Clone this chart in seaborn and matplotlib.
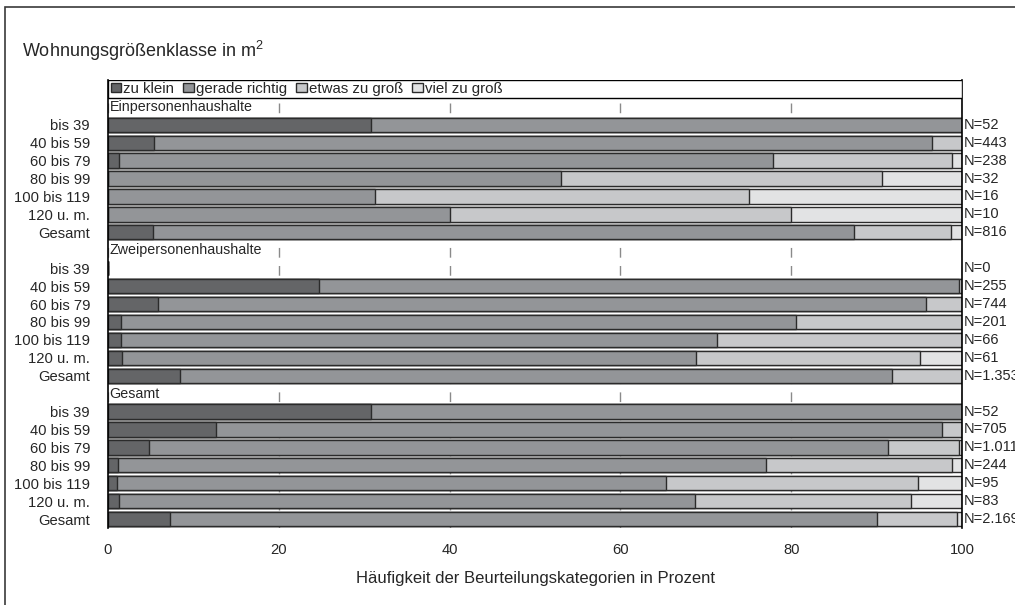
import numpy as np
import pandas as pd
import seaborn as sns
import matplotlib.pyplot as plt
from matplotlib.patches import Patch, Rectangle

# Kategorien und Beschriftungen
categories = ["zu klein", "gerade richtig", "etwas zu groß", "viel zu groß"]
size_labels = ["bis 39", "40 bis 59", "60 bis 79", "80 bis 99", "100 bis 119", "120 u. m.", "Gesamt"]
group_names = ["Einpersonenhaushalte", "Zweipersonenhaushalte", "Gesamt"]

# Einpersonenhaushalte (Prozent)
ein_zu_klein = [30.8, 5.4, 1.3, 0, 0, 0, 5.3]
ein_gerade = [69.2, 91.1, 76.6, 53.1, 31.3, 40.0, 82.1]
ein_etwas = [0, 3.5, 20.9, 37.5, 43.7, 40.0, 11.3]
ein_viel = [0, 0, 1.2, 9.4, 25.0, 20.0, 1.3]
ein_n = ["52", "443", "238", "32", "16", "10", "816"]

# Zweipersonenhaushalte
zwei_zu_klein = [0, 24.7, 5.9, 1.5, 1.5, 1.6, 8.4]
zwei_gerade = [0, 74.9, 89.9, 79.1, 69.8, 67.2, 83.4]
zwei_etwas = [0, 0.4, 4.2, 19.4, 28.7, 26.3, 8.2]
zwei_viel = [0, 0, 0, 0, 0, 4.9, 0]
zwei_n = ["0", "255", "744", "201", "66", "61", "1.353"]

# Gesamt
ges_zu_klein = [30.8, 12.6, 4.8, 1.2, 1.1, 1.3, 7.3]
ges_gerade = [69.2, 85.1, 86.5, 75.8, 64.2, 67.4, 82.8]
ges_etwas = [0, 2.3, 8.3, 21.8, 29.6, 25.3, 9.3]
ges_viel = [0, 0, 0.4, 1.2, 5.1, 6.0, 0.6]
ges_n = ["52", "705", "1.011", "244", "95", "83", "2.169"]

colors = ["#646567", "#939598", "#c7c8ca", "#e2e3e4"]
edge = "#2b2b2b"

sns.set_style("white")
plt.rcParams['font.family'] = ['Liberation Sans', 'DejaVu Sans']
plt.rcParams['mathtext.default'] = 'regular'

# Tabelle aufbauen (eine Zeile pro Balken)
groups = [
    (ein_zu_klein, ein_gerade, ein_etwas, ein_viel, ein_n),
    (zwei_zu_klein, zwei_gerade, zwei_etwas, zwei_viel, zwei_n),
    (ges_zu_klein, ges_gerade, ges_etwas, ges_viel, ges_n),
]
rows = []
order = ["legende"]
for g, (zk, gr, et, vi, nn) in enumerate(groups):
    order.append(f"kopf{g}")
    for i, lab in enumerate(size_labels):
        key = f"{g}_{i}"
        order.append(key)
        rows.append({"key": key, "label": lab, "N": nn[i],
                     categories[0]: zk[i], categories[1]: gr[i],
                     categories[2]: et[i], categories[3]: vi[i]})
df = pd.DataFrame(rows)
cum = df[categories].cumsum(axis=1)

fig = plt.figure(figsize=(10.15, 6.05), dpi=100)
ax = fig.add_axes([108 / 1015, 1 - 528 / 605, (962 - 108) / 1015, (528 - 80) / 605])

# gestapelte Balken: von hinten (Summe) nach vorne
for k in range(3, -1, -1):
    sns.barplot(x=cum[categories[k]], y=df["key"], order=order, orient="h",
                color=colors[k], saturation=1, width=0.8, edgecolor=edge,
                linewidth=1, errorbar=None, ax=ax)

ax.set_xlim(0, 100)
ax.set_ylim(len(order) - 0.5, -0.5)
ax.set_xticks([0, 20, 40, 60, 80, 100])
ax.set_yticks([order.index(k) for k in df["key"]])
ax.set_yticklabels(df["label"])
ax.tick_params(axis="y", length=0, pad=13, labelsize=10.6)
ax.tick_params(axis="x", length=0, pad=11, labelsize=10.6)
ax.grid(axis="x", linestyle=(0, (7, 6)), color="#8a8a8a", linewidth=1)
ax.set_axisbelow(True)
ax.set_ylabel("")
ax.set_xlabel("Häufigkeit der Beurteilungskategorien in Prozent", fontsize=12, labelpad=10)

for s in ["top", "bottom"]:
    ax.spines[s].set_visible(False)
for s in ["left", "right"]:
    ax.spines[s].set_color("black")
    ax.spines[s].set_linewidth(1.2)

# Gruppenüberschriften
for g, name in enumerate(group_names):
    ax.text(0.2, order.index(f"kopf{g}"), name, va="center", ha="left", fontsize=10.3)

# Fallzahlen rechts
for key, n in zip(df["key"], df["N"]):
    ax.text(100.2, order.index(key), "N=" + n, va="center", ha="left",
            fontsize=10.5, clip_on=False)

# Legendenzeile
ax.add_patch(Rectangle((0, -0.5), 100, 1, facecolor="white", edgecolor="black",
                       linewidth=1, zorder=4))
handles = [Patch(facecolor=c, edgecolor=edge, linewidth=1) for c in colors]
ax.legend(handles, categories, loc="center left", bbox_to_anchor=(0.003, 1 - 0.5 / len(order)),
          ncol=4, frameon=False, fontsize=10.8, handlelength=0.7, handleheight=0.6,
          handletextpad=0.15, columnspacing=0.6, borderaxespad=0, borderpad=0)

fig.text(22 / 1015, 1 - 51 / 605, "Wohnungsgrößenklasse in m$^2$", fontsize=13, va="center")

# Rahmen um die Grafik
fig.add_artist(Rectangle((5 / 1015, -0.05), 1.1, 1 - 7 / 605 + 0.05,
                         transform=fig.transFigure, fill=False,
                         edgecolor="#3a3a3a", linewidth=1.2))

fig.savefig("out.png", dpi=100)
